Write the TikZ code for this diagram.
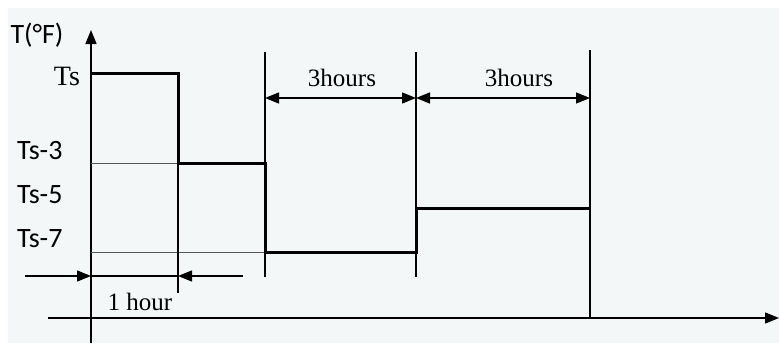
\documentclass[tikz,border=0pt]{standalone}
\usepackage{fontspec}
\setmainfont{Liberation Serif}
\newfontfamily\labfont{Carlito}
\usetikzlibrary{arrows.meta}
\definecolor{bgc}{HTML}{F4F7F7}
\definecolor{faint}{HTML}{555555}
\begin{document}
\begin{tikzpicture}[x=1pt,y=-1pt,
  guide/.style={line width=1.4pt,black},
  level/.style={line width=1pt,faint},
  stepline/.style={line width=3pt,black,line join=miter},
  headtip/.style={-{Triangle[length=14pt,width=11pt]}},
  bothtips/.style={{Triangle[length=14pt,width=11pt]}-{Triangle[length=14pt,width=11pt]}},
  sanslab/.style={font=\labfont\fontsize{28}{30}\selectfont,inner sep=0pt},
  seriflab/.style={font=\fontsize{25}{27}\selectfont,inner sep=0pt}]
\useasboundingbox (0,0) rectangle (779,343);
\fill[white] (0,0) rectangle (779,343);
\fill[bgc] (8,8) rectangle (779,343);
% coordinates
\coordinate (ybot) at (91,343);
\coordinate (ytop) at (91,30);
\coordinate (xl) at (48,318);
\coordinate (xr) at (779,318);
\coordinate (a0) at (91,73);
\coordinate (a1) at (178,73);
\coordinate (a2) at (178,163);
\coordinate (a3) at (265,163);
\coordinate (a4) at (265,252);
\coordinate (a5) at (416,252);
\coordinate (a6) at (416,208);
\coordinate (a7) at (590,208);
\coordinate (g3) at (91,163);
\coordinate (g7) at (91,252);
\coordinate (v1b) at (178,293);
\coordinate (v2t) at (265,52);
\coordinate (v2b) at (265,277);
\coordinate (v3t) at (416,52);
\coordinate (v3b) at (416,277);
\coordinate (v4t) at (590,50);
\coordinate (v4b) at (590,318);
\coordinate (d1) at (265,98);
\coordinate (d2) at (416,98);
\coordinate (d3) at (590,98);
\coordinate (h0) at (25,276);
\coordinate (h1) at (91,276);
\coordinate (h2) at (178,276);
\coordinate (h3) at (243,276);
% axes
\draw[guide,headtip] (ybot) -- (ytop);
\draw[guide,headtip] (xl) -- (xr);
% guides
\draw[level] (g3) -- (a2);
\draw[level] (g7) -- (a4);
\draw[guide] (a1) -- (v1b);
\draw[guide] (v2t) -- (v2b);
\draw[guide] (v3t) -- (v3b);
\draw[guide] (v4t) -- (v4b);
% step curve
\draw[stepline] (a0) -- (a1) -- (a2) -- (a3) -- (a4) -- (a5) -- (a6) -- (a7);
% dimension arrows
\draw[guide,bothtips] (d1) -- (d2);
\draw[guide,bothtips] (d2) -- (d3);
\draw[guide,headtip] (h0) -- (h1);
\draw[guide] (h1) -- (h2);
\draw[guide,headtip] (h3) -- (h2);
% labels
\node[sanslab] (tf) at (37,35) {T(°F)};
\node[seriflab,font=\fontsize{28}{30}\selectfont] (ts) at (67,76) {Ts};
\node[sanslab,anchor=west] (ts3) at (17,151) {Ts-3};
\node[sanslab,anchor=west] (ts5) at (17,195) {Ts-5};
\node[sanslab,anchor=west] (ts7) at (17,239) {Ts-7};
\node[seriflab] (l1) at (342,78) {3hours};
\node[seriflab] (l2) at (519,78) {3hours};
\node[seriflab] (l3) at (140,302) {1 hour};
\end{tikzpicture}
\end{document}
